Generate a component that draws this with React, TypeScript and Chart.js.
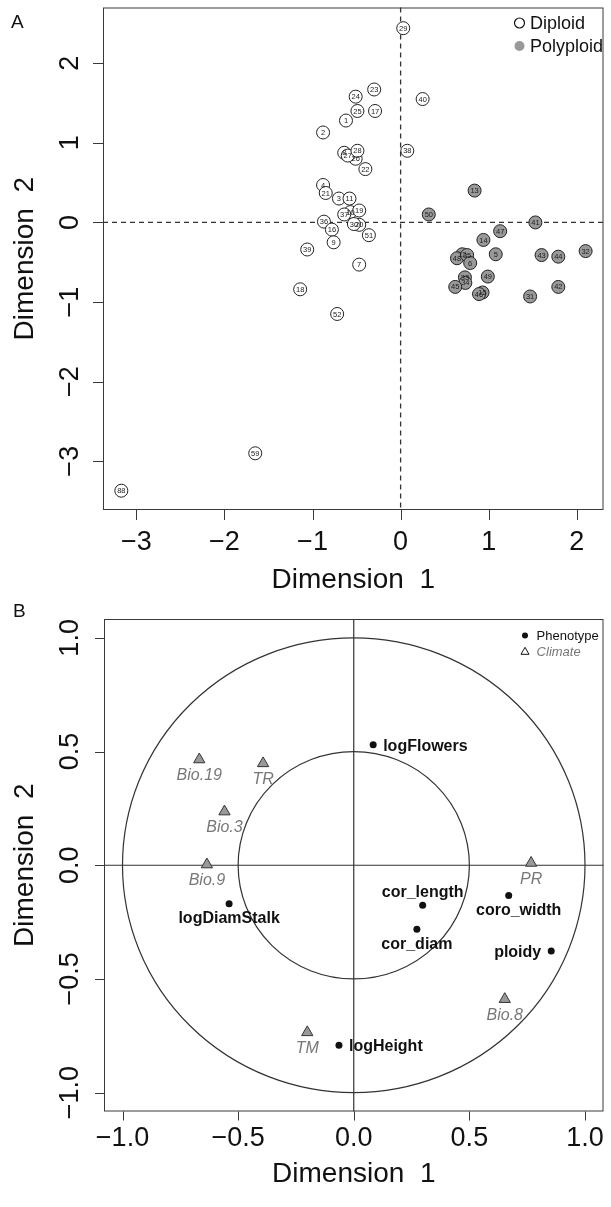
import React, { useEffect, useRef } from "react";
import { Chart, registerables } from "chart.js";

Chart.register(...registerables);

const FONT = "'Liberation Sans', Arial, Helvetica, sans-serif";
const MINUS = "\u2212";

// ---------------- Panel A data ----------------
const diploidLabels = ["29", "23", "24", "40", "25", "17", "1", "2", "38", "26", "8", "27", "28", "22", "4", "21", "3", "11", "10", "19", "37", "36", "20", "30", "16", "51", "9", "39", "7", "18", "52", "59", "88"];
const diploidX = [0.03, -0.30, -0.51, 0.25, -0.49, -0.29, -0.62, -0.88, 0.076, -0.51, -0.64, -0.60, -0.49, -0.40, -0.88, -0.85, -0.70, -0.58, -0.57, -0.47, -0.64, -0.87, -0.47, -0.53, -0.78, -0.36, -0.76, -1.06, -0.47, -1.14, -0.72, -1.65, -3.17];
const diploidY = [2.44, 1.67, 1.58, 1.55, 1.40, 1.40, 1.28, 1.13, 0.90, 0.80, 0.875, 0.84, 0.90, 0.67, 0.47, 0.37, 0.30, 0.30, 0.13, 0.15, 0.10, 0.01, -0.03, -0.02, -0.09, -0.16, -0.25, -0.34, -0.53, -0.84, -1.15, -2.9, -3.37];

const polyLabels = ["13", "50", "41", "47", "14", "5", "12", "48", "35", "6", "49", "33", "34", "45", "15", "46", "43", "44", "32", "42", "31"];
const polyX = [0.84, 0.32, 1.53, 1.13, 0.94, 1.08, 0.70, 0.64, 0.755, 0.79, 0.99, 0.73, 0.735, 0.62, 0.93, 0.89, 1.60, 1.79, 2.10, 1.79, 1.47];
const polyY = [0.40, 0.10, 0.00, -0.11, -0.22, -0.40, -0.40, -0.45, -0.41, -0.51, -0.68, -0.69, -0.76, -0.81, -0.88, -0.90, -0.41, -0.43, -0.36, -0.81, -0.93];

const xTicksA = [-3, -2, -1, 0, 1, 2];
const yTicksA = [-3, -2, -1, 0, 1, 2];

// ---------------- Panel B data ----------------
const phenoNames = ["logFlowers", "logDiamStalk", "cor_length", "coro_width", "cor_diam", "ploidy", "logHeight"];
const phenoX = [0.084, -0.539, 0.298, 0.670, 0.273, 0.854, -0.064];
const phenoY = [0.530, -0.169, -0.176, -0.133, -0.281, -0.377, -0.792];

const climNames = ["Bio.19", "TR", "Bio.3", "Bio.9", "PR", "Bio.8", "TM"];
const climX = [-0.668, -0.392, -0.559, -0.635, 0.767, 0.653, -0.201];
const climY = [0.465, 0.448, 0.236, 0.003, 0.010, -0.589, -0.735];

const xTicksB = [-1, -0.5, 0, 0.5, 1];
const yTicksB = [-1, -0.5, 0, 0.5, 1];
const circleRadiiB = [0.5, 1.0];

// label placement (style only)
const phenoPlacement: Record<string, [string, number, number]> = {
  logFlowers: ["left", 10, 0],
  logDiamStalk: ["center", 0, 14],
  cor_length: ["center", 0, -14],
  coro_width: ["center", 10, 14],
  cor_diam: ["center", 0, 14],
  ploidy: ["right", -10, 0],
  logHeight: ["left", 10, 0],
};

const fmtA = (v: number) => (v < 0 ? MINUS + Math.abs(v) : String(v));
const fmtB = (v: number) => (v < 0 ? MINUS + Math.abs(v).toFixed(1) : v.toFixed(1));

type FrameOpts = {
  xTicks: number[];
  yTicks: number[];
  fmt: (v: number) => string;
  tickLen: number;
  tickSize: number;
  titleSize: number;
  xLabelY: number;
  yLabelX: number;
  xTitleY: number;
  yTitleX: number;
  letter: string;
  letterX: number;
  letterY: number;
};

function drawFrame(chart: any, o: FrameOpts) {
  const { ctx, chartArea: a, scales } = chart;
  const xs = scales.x;
  const ys = scales.y;
  ctx.save();
  ctx.strokeStyle = "#3a3a3a";
  ctx.lineWidth = 1;
  ctx.strokeRect(a.left + 0.5, a.top + 0.5, a.right - a.left - 1, a.bottom - a.top - 1);
  ctx.beginPath();
  o.xTicks.forEach((v) => {
    const px = Math.round(xs.getPixelForValue(v)) + 0.5;
    ctx.moveTo(px, a.bottom);
    ctx.lineTo(px, a.bottom + o.tickLen);
  });
  o.yTicks.forEach((v) => {
    const py = Math.round(ys.getPixelForValue(v)) + 0.5;
    ctx.moveTo(a.left, py);
    ctx.lineTo(a.left - o.tickLen, py);
  });
  ctx.stroke();

  ctx.fillStyle = "#111";
  ctx.textAlign = "center";
  ctx.textBaseline = "alphabetic";
  ctx.font = `${o.tickSize}px ${FONT}`;
  const off = 0.358 * o.tickSize;
  o.xTicks.forEach((v) => {
    ctx.fillText(o.fmt(v), xs.getPixelForValue(v), o.xLabelY + off);
  });
  o.yTicks.forEach((v) => {
    ctx.save();
    ctx.translate(o.yLabelX, ys.getPixelForValue(v));
    ctx.rotate(-Math.PI / 2);
    ctx.fillText(o.fmt(v), 0, off);
    ctx.restore();
  });

  ctx.font = `${o.titleSize}px ${FONT}`;
  const toff = 0.358 * o.titleSize;
  ctx.fillText("Dimension  1", (a.left + a.right) / 2, o.xTitleY + toff);
  ctx.save();
  ctx.translate(o.yTitleX, (a.top + a.bottom) / 2);
  ctx.rotate(-Math.PI / 2);
  ctx.fillText("Dimension  2", 0, toff);
  ctx.restore();

  ctx.font = `19px ${FONT}`;
  ctx.textAlign = "left";
  ctx.fillText(o.letter, o.letterX, o.letterY);
  ctx.restore();
}

const panelAPlugin = {
  id: "panelA",
  beforeDatasetsDraw(chart: any) {
    const { ctx, chartArea: a, scales } = chart;
    const x0 = scales.x.getPixelForValue(0);
    const y0 = scales.y.getPixelForValue(0);
    ctx.save();
    ctx.strokeStyle = "#333";
    ctx.lineWidth = 1.3;
    ctx.setLineDash([5, 4]);
    ctx.beginPath();
    ctx.moveTo(x0, a.top);
    ctx.lineTo(x0, a.bottom);
    ctx.moveTo(a.left, y0);
    ctx.lineTo(a.right, y0);
    ctx.stroke();
    ctx.restore();
  },
  afterDatasetsDraw(chart: any) {
    const { ctx } = chart;
    ctx.save();
    ctx.fillStyle = "#222";
    ctx.font = `7.5px ${FONT}`;
    ctx.textAlign = "center";
    ctx.textBaseline = "middle";
    const sets = [diploidLabels, polyLabels];
    sets.forEach((labels, di) => {
      const meta = chart.getDatasetMeta(di);
      meta.data.forEach((el: any, i: number) => {
        ctx.fillText(labels[i], el.x, el.y + 0.5);
      });
    });
    ctx.restore();

    drawFrame(chart, {
      xTicks: xTicksA,
      yTicks: yTicksA,
      fmt: fmtA,
      tickLen: 10,
      tickSize: 27,
      titleSize: 28,
      xLabelY: 540,
      yLabelX: 68,
      xTitleY: 578,
      yTitleX: 23,
      letter: "A",
      letterX: 11,
      letterY: 28,
    });

    // legend
    ctx.save();
    ctx.font = `18px ${FONT}`;
    ctx.textAlign = "left";
    ctx.textBaseline = "alphabetic";
    ctx.fillStyle = "#111";
    ctx.strokeStyle = "#111";
    ctx.lineWidth = 1.2;
    ctx.beginPath();
    ctx.arc(519.5, 23, 5, 0, Math.PI * 2);
    ctx.stroke();
    ctx.fillText("Diploid", 530, 23 + 6.4);
    ctx.fillStyle = "#999";
    ctx.beginPath();
    ctx.arc(519.5, 46, 5, 0, Math.PI * 2);
    ctx.fill();
    ctx.fillStyle = "#111";
    ctx.fillText("Polyploid", 530, 46 + 6.4);
    ctx.restore();
  },
};

const panelBPlugin = {
  id: "panelB",
  beforeDatasetsDraw(chart: any) {
    const { ctx, chartArea: a, scales } = chart;
    const xs = scales.x;
    const ys = scales.y;
    const x0 = xs.getPixelForValue(0);
    const y0 = ys.getPixelForValue(0);
    ctx.save();
    ctx.strokeStyle = "#333";
    ctx.lineWidth = 1.2;
    circleRadiiB.forEach((r) => {
      const rx = Math.abs(xs.getPixelForValue(r) - x0);
      const ry = Math.abs(ys.getPixelForValue(r) - y0);
      ctx.beginPath();
      ctx.ellipse(x0, y0, rx, ry, 0, 0, Math.PI * 2);
      ctx.stroke();
    });
    ctx.beginPath();
    ctx.moveTo(x0, a.top);
    ctx.lineTo(x0, a.bottom);
    ctx.moveTo(a.left, y0);
    ctx.lineTo(a.right, y0);
    ctx.stroke();
    ctx.restore();
  },
  afterDatasetsDraw(chart: any) {
    const { ctx } = chart;
    ctx.save();
    ctx.font = `bold 16px ${FONT}`;
    ctx.fillStyle = "#111";
    ctx.textBaseline = "alphabetic";
    const pm = chart.getDatasetMeta(0);
    pm.data.forEach((el: any, i: number) => {
      const name = phenoNames[i];
      const [align, dx, dy] = phenoPlacement[name];
      ctx.textAlign = align;
      ctx.fillText(name, el.x + dx, el.y + dy + 5.8);
    });
    ctx.font = `italic 16px ${FONT}`;
    ctx.fillStyle = "#777";
    ctx.textAlign = "center";
    const cm = chart.getDatasetMeta(1);
    cm.data.forEach((el: any, i: number) => {
      ctx.fillText(climNames[i], el.x, el.y + 15 + 5.8);
    });
    ctx.restore();

    drawFrame(chart, {
      xTicks: xTicksB,
      yTicks: yTicksB,
      fmt: fmtB,
      tickLen: 9,
      tickSize: 27,
      titleSize: 28,
      xLabelY: 546,
      yLabelX: 68,
      xTitleY: 581.5,
      yTitleX: 23,
      letter: "B",
      letterX: 13,
      letterY: 27,
    });

    ctx.save();
    ctx.font = `13px ${FONT}`;
    ctx.textAlign = "left";
    ctx.textBaseline = "alphabetic";
    ctx.fillStyle = "#111";
    ctx.beginPath();
    ctx.arc(525, 45.6, 3, 0, Math.PI * 2);
    ctx.fill();
    ctx.fillText("Phenotype", 536.6, 45.6 + 4.7);
    ctx.strokeStyle = "#111";
    ctx.lineWidth = 1;
    const ty = 61.3;
    ctx.beginPath();
    ctx.moveTo(525, ty - 4);
    ctx.lineTo(529, ty + 3);
    ctx.lineTo(521, ty + 3);
    ctx.closePath();
    ctx.stroke();
    ctx.font = `italic 13px ${FONT}`;
    ctx.fillStyle = "#777";
    ctx.fillText("Climate", 536.6, ty + 4.7);
    ctx.restore();
  },
};

function PanelA() {
  const ref = useRef<HTMLCanvasElement>(null);
  useEffect(() => {
    if (!ref.current) return;
    const chart = new Chart(ref.current, {
      type: "scatter",
      data: {
        datasets: [
          {
            label: "Diploid",
            data: diploidX.map((x, i) => ({ x, y: diploidY[i] })),
            pointRadius: 6.5,
            pointBackgroundColor: "#ffffff",
            pointBorderColor: "#222",
            pointBorderWidth: 1,
          },
          {
            label: "Polyploid",
            data: polyX.map((x, i) => ({ x, y: polyY[i] })),
            pointRadius: 6.5,
            pointBackgroundColor: "#999999",
            pointBorderColor: "#222",
            pointBorderWidth: 1,
          },
        ],
      },
      options: {
        responsive: false,
        animation: false,
        events: [],
        layout: { padding: { left: 103, right: 6, top: 5, bottom: 80 } },
        plugins: { legend: { display: false }, tooltip: { enabled: false } },
        scales: {
          x: { type: "linear", min: -3.378, max: 2.303, display: false },
          y: { type: "linear", min: -3.6125, max: 2.7, display: false },
        },
      },
      plugins: [panelAPlugin],
    } as any);
    return () => chart.destroy();
  }, []);
  return <canvas ref={ref} width={611} height={590} style={{ display: "block" }} />;
}

function PanelB() {
  const ref = useRef<HTMLCanvasElement>(null);
  useEffect(() => {
    if (!ref.current) return;
    const chart = new Chart(ref.current, {
      type: "scatter",
      data: {
        datasets: [
          {
            label: "Phenotype",
            data: phenoX.map((x, i) => ({ x, y: phenoY[i] })),
            pointRadius: 3.5,
            pointBackgroundColor: "#111",
            pointBorderColor: "#111",
            pointBorderWidth: 0,
          },
          {
            label: "Climate",
            data: climX.map((x, i) => ({ x, y: climY[i] })),
            pointStyle: "triangle",
            pointRadius: 6.5,
            pointBackgroundColor: "#999999",
            pointBorderColor: "#333",
            pointBorderWidth: 1,
          },
        ],
      },
      options: {
        responsive: false,
        animation: false,
        events: [],
        layout: { padding: { left: 104, right: 2, top: 29, bottom: 95.5 } },
        plugins: { legend: { display: false }, tooltip: { enabled: false } },
        scales: {
          x: { type: "linear", min: -1.08, max: 1.08, display: false },
          y: { type: "linear", min: -1.083, max: 1.083, display: false },
        },
      },
      plugins: [panelBPlugin],
    } as any);
    return () => chart.destroy();
  }, []);
  return <canvas ref={ref} width={611} height={617} style={{ display: "block" }} />;
}

export default function App() {
  useEffect(() => {
    document.body.style.margin = "0";
  }, []);
  return (
    <div style={{ position: "absolute", left: 0, top: 0, width: 611, height: 1207, background: "#fff" }}>
      <PanelA />
      <PanelB />
    </div>
  );
}
